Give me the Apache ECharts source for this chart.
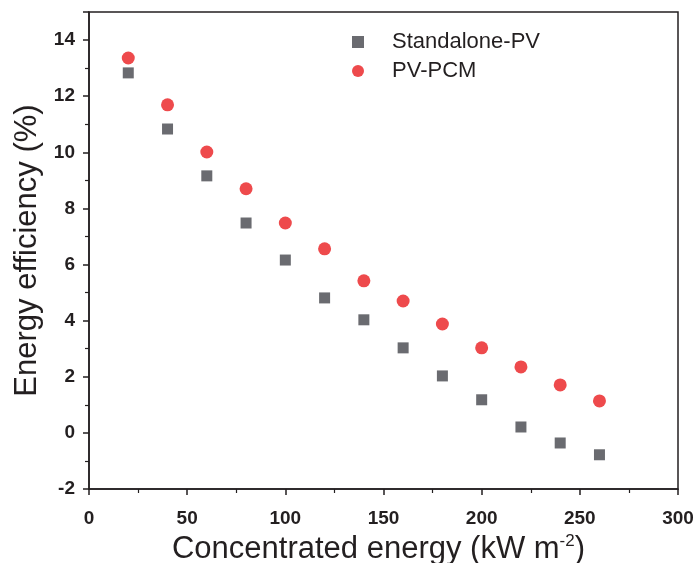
<!DOCTYPE html>
<html>
<head>
<meta charset="utf-8">
<script src="https://cdn.jsdelivr.net/npm/echarts@6/dist/echarts.min.js"></script>
<style>
  html, body { margin: 0; padding: 0; background: #fff; }
  #chart { width: 697px; height: 563px; }
</style>
</head>
<body>
<div id="chart"></div>
<script>
// concentrated energy, kW m^-2
const energy = [20, 40, 60, 80, 100, 120, 140, 160, 180, 200, 220, 240, 260];
// energy efficiency, %
const standalonePV = [12.83, 10.83, 9.16, 7.48, 6.16, 4.81, 4.03, 3.03, 2.03, 1.18, 0.21, -0.36, -0.78];
const pvPCM = [13.36, 11.69, 10.01, 8.70, 7.48, 6.56, 5.42, 4.70, 3.88, 3.03, 2.35, 1.71, 1.14];

const font = "'Liberation Sans', Arial, sans-serif";
const ink = "#231f20";

const chart = echarts.init(document.getElementById("chart"));

const option = {
  animation: false,
  textStyle: { fontFamily: font },
  grid: {
    left: 89,
    right: 19,
    top: 12,
    bottom: 74,
    outerBoundsMode: "none",
    containLabel: false,
    show: true,
    borderColor: ink,
    borderWidth: 1.5,
  },
  legend: {
    orient: "vertical",
    left: 347,
    top: 26,
    itemWidth: 12,
    itemHeight: 12,
    itemGap: 7,
    textStyle: { fontFamily: font, fontSize: 22, color: ink, padding: [0, 0, 0, 23] },
    data: ["Standalone-PV", "PV-PCM"],
  },
  xAxis: {
    type: "value",
    min: 0,
    max: 300,
    interval: 50,
    name: "Concentrated energy (kW m{sup|-2})",
    nameLocation: "middle",
    nameGap: 39,
    nameTextStyle: {
      fontFamily: font,
      fontSize: 31,
      color: ink,
      padding: [0, 10, 0, 0],
      rich: { sup: { fontSize: 17, verticalAlign: "top", padding: [0, 0, 16, 0], color: ink, fontFamily: font } },
    },
    axisLine: { onZero: false, lineStyle: { color: ink, width: 1.5 } },
    axisTick: { inside: false, length: 6, lineStyle: { color: ink, width: 1.5 } },
    minorTick: { show: true, splitNumber: 2, length: 4, lineStyle: { color: ink, width: 1.2 } },
    axisLabel: { fontFamily: font, fontSize: 19, fontWeight: "bold", color: ink, margin: 20 },
    splitLine: { show: false },
  },
  yAxis: {
    type: "value",
    min: -2,
    max: 15,
    interval: 2,
    name: "Energy efficiency (%)",
    nameLocation: "middle",
    nameGap: 35,
    nameTextStyle: { fontFamily: font, fontSize: 31, color: ink },
    axisLine: { lineStyle: { color: ink, width: 1.5 } },
    axisTick: { inside: false, length: 6, lineStyle: { color: ink, width: 1.5 } },
    minorTick: { show: true, splitNumber: 2, length: 4, lineStyle: { color: ink, width: 1.2 } },
    axisLabel: {
      fontFamily: font,
      fontSize: 19,
      fontWeight: "bold",
      color: ink,
      margin: 14,
      showMaxLabel: false,
    },
    splitLine: { show: false },
  },
  series: [
    {
      name: "Standalone-PV",
      type: "scatter",
      symbol: "rect",
      symbolSize: 11,
      itemStyle: { color: "#6a6b70", opacity: 1 },
      data: energy.map((x, i) => [x, standalonePV[i]]),
    },
    {
      name: "PV-PCM",
      type: "scatter",
      symbol: "circle",
      symbolSize: 13,
      itemStyle: { color: "#ee4a4c", opacity: 1 },
      data: energy.map((x, i) => [x, pvPCM[i]]),
    },
  ],
};

chart.setOption(option);
</script>
</body>
</html>
